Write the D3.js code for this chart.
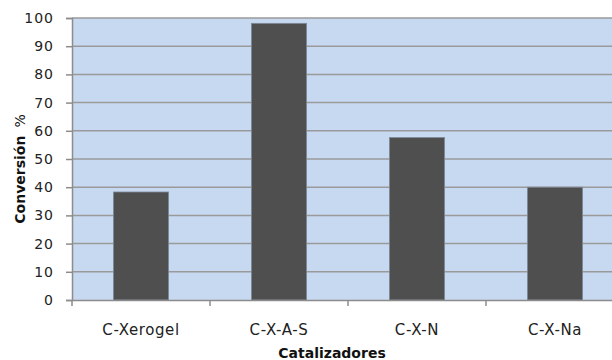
<!DOCTYPE html>
<html><head><meta charset="utf-8">
<script src="https://cdn.jsdelivr.net/npm/d3@7"></script>
<style>body{margin:0;background:#fff}svg{display:block}</style>
</head><body>
<script>
const categories = ["C-Xerogel", "C-X-A-S", "C-X-N", "C-X-Na"];
const conversion = [38.3, 98.1, 57.6, 40.0];
const yTicks = [0,10,20,30,40,50,60,70,80,90,100];
const xTitle = "Catalizadores";
const yTitleMain = "Conversión";
const yTitleUnit = "%";

const W = 612, H = 360;
const m = {left:72, top:18, right:-12, bottom:60};
const svg = d3.select("body").append("svg").attr("width",W).attr("height",H);
const x = d3.scaleBand().domain(categories).range([m.left, W - m.right]).paddingInner(0.6).paddingOuter(0.3);
const y = d3.scaleLinear().domain([0,100]).range([H - m.bottom, m.top]);
const font = "DejaVu Sans, sans-serif";

// plot background
svg.append("rect").attr("x", m.left).attr("y", y(100)).attr("width", W - m.right - m.left).attr("height", y(0)-y(100)).attr("fill","#c6d9f1");

// gridlines
svg.append("g").selectAll("line").data(yTicks.filter(d=>d>0)).join("line")
  .attr("x1", m.left).attr("x2", W - m.right).attr("y1", d=>y(d)).attr("y2", d=>y(d))
  .attr("stroke","#9a9a9a").attr("stroke-width",1.5);

// bars
svg.append("g").selectAll("rect").data(categories).join("rect")
  .attr("x", d=>x(d)).attr("width", x.bandwidth())
  .attr("y", (d,i)=>y(conversion[i])).attr("height", (d,i)=>y(0)-y(conversion[i]))
  .attr("fill","#4f4f4f").attr("stroke","#7f8a99").attr("stroke-width",0.8);

// y axis
const ya = svg.append("g").attr("transform",`translate(${m.left},0)`)
  .call(d3.axisLeft(y).tickValues(yTicks).tickSize(6).tickPadding(12));
ya.select(".domain").attr("stroke","#8c8c8c").attr("stroke-width",1.5);
ya.selectAll(".tick line").attr("stroke","#8c8c8c").attr("stroke-width",1.5);
ya.selectAll("text").attr("font-family",font).attr("font-size",14).attr("letter-spacing",1).attr("fill","#222");

// x axis with ticks at band boundaries
const xa = svg.append("g").attr("transform",`translate(0,${y(0)})`)
  .call(d3.axisBottom(x).tickSize(0).tickPadding(24));
xa.select(".domain").attr("stroke","#8c8c8c").attr("stroke-width",1.5);
xa.selectAll("text").attr("font-family",font).attr("font-size",15).attr("letter-spacing",0.6).attr("fill","#222");
const step = x.step();
svg.append("g").selectAll("line").data(categories.map((c,i)=> i===0 ? m.left : x(c) - (step - x.bandwidth())/2)).join("line")
  .attr("x1",d=>d).attr("x2",d=>d).attr("y1",y(0)).attr("y2",y(0)+6)
  .attr("stroke","#8c8c8c").attr("stroke-width",1.5);

// x title
svg.append("text").attr("x", 332).attr("y", 358).attr("text-anchor","middle")
  .attr("font-family",font).attr("font-size",14).attr("font-weight","bold").attr("fill","#111").text(xTitle);

// y title
const yt = svg.append("text").attr("transform","translate(25,169) rotate(-90)").attr("text-anchor","middle")
  .attr("font-family",font).attr("font-size",14).attr("fill","#111");
yt.append("tspan").attr("font-weight","bold").text(yTitleMain);
yt.append("tspan").attr("dx",8).text(yTitleUnit);
</script>
</body></html>
